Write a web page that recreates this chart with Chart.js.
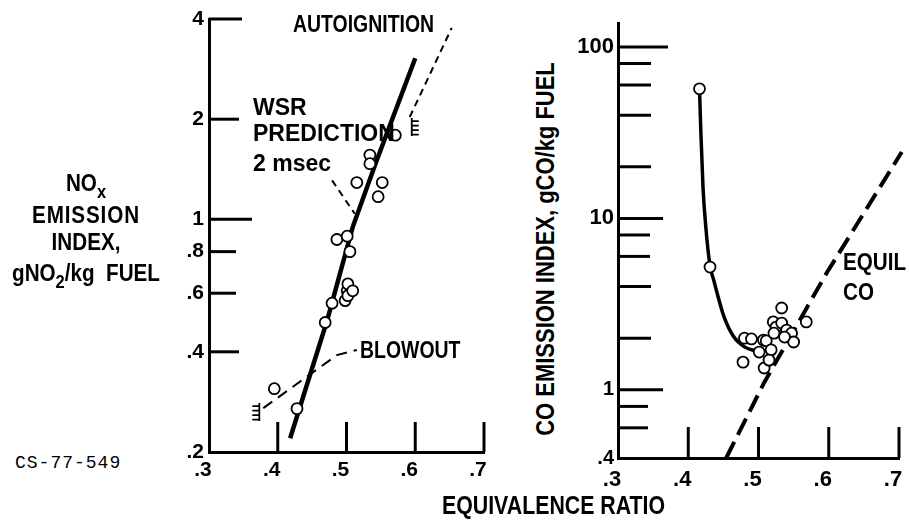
<!DOCTYPE html>
<html>
<head>
<meta charset="utf-8">
<script src="https://cdn.jsdelivr.net/npm/chart.js@4.4.1/dist/chart.umd.min.js"></script>
<style>
  html, body { margin: 0; padding: 0; background: #fff; width: 909px; height: 522px; overflow: hidden; position: relative; }
  canvas { position: absolute; }
  .t { position: absolute; font-family: "Liberation Sans", Arial, sans-serif; font-weight: bold; color: #000; line-height: 1; white-space: nowrap; transform-origin: 0 50%; }
  .n { transform: scaleX(0.81); }
  .w { font-size: 23px; }
  .c { text-align: center; width: 180px; left: -4px; font-size: 24px; transform-origin: 50% 50%; transform: scaleX(0.86); }
  sub { font-size: 0.8em; vertical-align: baseline; position: relative; top: 0.35em; }
</style>
</head>
<body>
<canvas id="noxChart" width="360" height="500" style="left:150px;top:0"></canvas>
<canvas id="coChart" width="370" height="500" style="left:560px;top:0"></canvas>

<div class="t c" style="top:171px">NO<sub>x</sub></div>
<div class="t c" style="top:203px;letter-spacing:1px">EMISSION</div>
<div class="t c" style="top:230px">INDEX,</div>
<div class="t c" style="top:261px">gNO<sub>2</sub>/kg&nbsp; FUEL</div>

<div class="t n" style="left:293px;top:12px;font-size:24px">AUTOIGNITION</div>
<div class="t w" style="left:253px;top:96px">WSR</div>
<div class="t w" style="left:253px;top:122px">PREDICTION</div>
<div class="t w" style="left:253px;top:152px">2 msec</div>
<div class="t n" style="left:360px;top:338px;font-size:24px">BLOWOUT</div>
<div class="t n" style="left:843px;top:250px;font-size:24px;transform:scaleX(0.86)">EQUIL</div>
<div class="t n" style="left:843px;top:280px;font-size:24px;transform:scaleX(0.86)">CO</div>
<div class="t" style="left:442px;top:492px;font-size:26px;transform:scaleX(0.82)">EQUIVALENCE RATIO</div>
<div class="t" style="left:545px;top:249px;font-size:26px;transform-origin:50% 50%;transform:translate(-50%,-50%) rotate(-90deg) scaleX(0.845)">CO EMISSION INDEX, gCO/kg FUEL</div>
<div class="t" style="left:15px;top:454px;font-family:'Liberation Mono',monospace;font-weight:normal;font-size:18px;letter-spacing:1px">CS-77-549</div>

<script>
// axis ticks
const phiTicks = [0.3, 0.4, 0.5, 0.6, 0.7];
const noxTicks = [0.2, 0.4, 0.6, 0.8, 1, 2, 4];
const coTicks = [0.4, 0.6, 0.8, 1, 2, 4, 6, 8, 10, 20, 40, 60, 80, 100];
const coLabelled = [0.4, 1, 10, 100];

// NOx panel
const noxPhi = [0.395, 0.428, 0.469, 0.479, 0.486, 0.498, 0.501, 0.502, 0.502, 0.509, 0.501, 0.505, 0.515, 0.534, 0.534, 0.546, 0.552, 0.571];
const noxIndex = [0.31, 0.27, 0.49, 0.56, 0.87, 0.57, 0.61, 0.64, 0.59, 0.61, 0.89, 0.80, 1.29, 1.56, 1.47, 1.17, 1.29, 1.79];
const noxFitPhi = [0.418, 0.472, 0.509, 0.544, 0.600];
const noxFitIndex = [0.22, 0.498, 0.948, 1.506, 3.05];
const autoPhi = [0.592, 0.653];
const autoIndex = [2.03, 3.76];
const wsrPhi = [0.479, 0.512];
const wsrIndex = [1.31, 1.04];
const blowPhi = [0.379, 0.486, 0.515];
const blowIndex = [0.271, 0.391, 0.405];

// CO panel
const coPhi = [0.416, 0.431, 0.478, 0.480, 0.490, 0.507, 0.511, 0.501, 0.518, 0.508, 0.515, 0.521, 0.533, 0.525, 0.533, 0.540, 0.547, 0.550, 0.568, 0.522, 0.537];
const coIndex = [57, 5.2, 1.45, 2.0, 1.98, 1.95, 1.93, 1.66, 1.71, 1.34, 1.49, 2.49, 3.0, 2.32, 2.45, 2.23, 2.14, 1.90, 2.49, 2.14, 2.03];
const coFitPhi = [0.416, 0.418, 0.421, 0.425, 0.431, 0.436, 0.451, 0.465, 0.480, 0.497];
const coFitIndex = [57, 31.5, 15.2, 8.9, 5.3, 4.4, 2.66, 2.03, 1.78, 1.68];
const equilPhi = [0.454, 0.508, 0.597, 0.704];
const equilIndex = [0.4, 1.1, 4.8, 24.4];

const pairs = (xs, ys) => xs.map((x, i) => ({ x: x, y: ys[i] }));
const fmt = (v) => (v >= 1 ? String(v) : String(v).replace(/^0/, ""));
const FONT = "'Liberation Sans', Arial, sans-serif";

// inward tick marks and hatch symbols
const inwardTicks = {
  id: "inwardTicks",
  beforeDatasetsDraw(chart, args, opts) {
    const { ctx, chartArea: a, scales } = chart;
    ctx.save();
    ctx.strokeStyle = "#000";
    ctx.lineWidth = 3;
    (opts.x || []).forEach(([v, len]) => {
      const px = scales.x.getPixelForValue(v);
      ctx.beginPath();
      ctx.moveTo(px, a.bottom);
      ctx.lineTo(px, a.bottom - len);
      ctx.stroke();
    });
    (opts.y || []).forEach(([v, len]) => {
      const py = scales.y.getPixelForValue(v);
      ctx.beginPath();
      ctx.moveTo(a.left, py);
      ctx.lineTo(a.left + len, py);
      ctx.stroke();
    });
    ctx.lineWidth = 1.8;
    (opts.hatches || []).forEach((h) => {
      const px = scales.x.getPixelForValue(h.x) + h.dx;
      const py = scales.y.getPixelForValue(h.y);
      ctx.beginPath();
      ctx.moveTo(px, py + h.from);
      ctx.lineTo(px, py + h.from + 18);
      for (let k = 0; k < 4; k++) {
        const yy = py + h.from + 3 + k * 4.5;
        ctx.moveTo(px, yy);
        ctx.lineTo(px + h.dir * 7, yy);
      }
      ctx.stroke();
    });
    ctx.restore();
  },
};

const points = (data) => ({
  type: "scatter",
  data: data,
  pointRadius: 5.5,
  pointBackgroundColor: "#fff",
  pointBorderColor: "#000",
  pointBorderWidth: 1.8,
  order: 0,
});
const line = (data, width, dash, extra) =>
  Object.assign(
    {
      type: "line",
      data: data,
      showLine: true,
      borderColor: "#000",
      borderWidth: width,
      borderDash: dash,
      pointRadius: 0,
      tension: 0,
      fill: false,
      order: 1,
    },
    extra || {}
  );

const xScale = (labelPad, fontSize) => ({
  type: "linear",
  min: 0.3,
  max: 0.7,
  afterBuildTicks: (s) => { s.ticks = phiTicks.map((v) => ({ value: v })); },
  afterFit: (s) => { s.height = 42; },
  grid: { display: true, drawOnChartArea: false, drawTicks: false },
  border: { display: true, color: "#000", width: 3 },
  ticks: {
    autoSkip: false,
    maxRotation: 0,
    padding: labelPad,
    labelOffset: -6,
    color: "#000",
    font: { family: FONT, size: fontSize, weight: "bold" },
    callback: (v) => fmt(v),
  },
});

const common = (padding) => ({
  responsive: false,
  animation: false,
  layout: { padding: padding },
});

new Chart(document.getElementById("noxChart"), {
  type: "scatter",
  data: {
    datasets: [
      points(pairs(noxPhi, noxIndex)),
      line(pairs(noxFitPhi, noxFitIndex), 4.5, []),
      line(pairs(autoPhi, autoIndex), 2, [7, 5]),
      line(pairs(wsrPhi, wsrIndex), 2, [7, 5]),
      line(pairs(blowPhi, blowIndex), 2, [11, 7]),
    ],
  },
  options: Object.assign(common({ left: 0, top: 19, right: 26, bottom: 6 }), {
    scales: {
      x: xScale(6, 21),
      y: {
        type: "logarithmic",
        min: 0.2,
        max: 4,
        afterBuildTicks: (s) => { s.ticks = noxTicks.map((v) => ({ value: v })); },
        afterFit: (s) => { s.width = 59; },
        grid: { display: true, drawOnChartArea: false, drawTicks: false },
        border: { display: true, color: "#000", width: 3 },
        ticks: {
          autoSkip: false,
          padding: 5,
          color: "#000",
          font: { family: FONT, size: 21, weight: "bold" },
          callback: (v) => fmt(v),
        },
      },
    },
    plugins: {
      legend: { display: false },
      tooltip: { enabled: false },
      inwardTicks: {
        x: [[0.4, 30], [0.5, 30], [0.6, 30], [0.7, 30]],
        y: [[4, 33], [2, 30], [1, 43], [0.8, 27], [0.6, 27], [0.4, 30]],
        hatches: [
          { x: autoPhi[0], y: autoIndex[0], dx: 2, from: 1, dir: 1 },
          { x: blowPhi[0], y: blowIndex[0], dx: -4, from: -5, dir: -1 },
        ],
      },
    },
  }),
  plugins: [inwardTicks],
});

new Chart(document.getElementById("coChart"), {
  type: "scatter",
  data: {
    datasets: [
      points(pairs(coPhi, coIndex)),
      line(pairs(coFitPhi, coFitIndex), 3.5, [], { cubicInterpolationMode: "monotone" }),
      line(pairs(equilPhi, equilIndex), 4, [18, 8], { clip: false }),
    ],
  },
  options: Object.assign(common({ left: 0, top: 23, right: 31, bottom: 0 }), {
    scales: {
      x: xScale(9, 22),
      y: {
        type: "logarithmic",
        min: 0.4,
        max: 138,
        afterBuildTicks: (s) => { s.ticks = coTicks.map((v) => ({ value: v })); },
        afterFit: (s) => { s.width = 58; },
        grid: { display: true, drawOnChartArea: false, drawTicks: false },
        border: { display: true, color: "#000", width: 3 },
        ticks: {
          autoSkip: false,
          padding: 4,
          color: "#000",
          font: (c) => ({ family: FONT, weight: "bold", size: c.tick && c.tick.value >= 10 ? 22 : 20 }),
          callback: (v) => (coLabelled.includes(v) ? fmt(v) : ""),
        },
      },
    },
    plugins: {
      legend: { display: false },
      tooltip: { enabled: false },
      inwardTicks: {
        x: [[0.4, 31], [0.5, 31], [0.6, 31], [0.7, 31]],
        y: [[100, 50], [80, 33], [60, 33], [40, 33], [20, 33], [10, 45], [8, 32], [6, 32], [4, 33], [2, 33], [1, 45], [0.8, 30], [0.6, 30]],
      },
    },
  }),
  plugins: [inwardTicks],
});
</script>
</body>
</html>
